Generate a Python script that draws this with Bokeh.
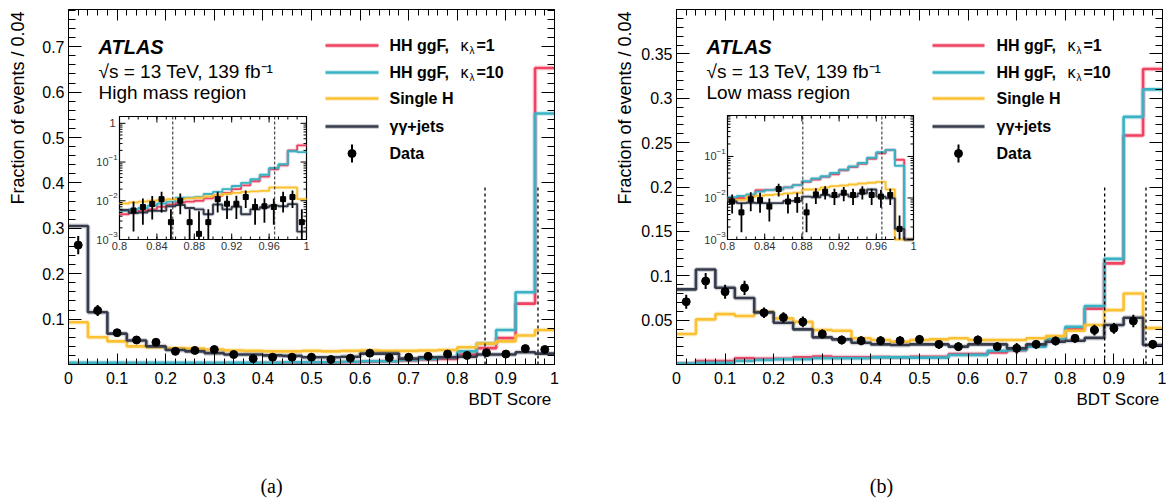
import math
import numpy as np
from bokeh.plotting import figure
from bokeh.models import Range1d, LinearAxis, LogScale, FixedTicker, Label
from bokeh.layouts import row
from bokeh.embed import file_html
from bokeh.resources import INLINE

# ---------------------------------------------------------------- data
BIN_EDGES = [round(0.04 * k, 2) for k in range(26)]          # main histograms, 0.04 wide
INSET_EDGES = [round(0.80 + 0.01 * k, 2) for k in range(21)]  # insets, 0.01 wide

# High mass region (a)
HM_K1 = [0.001, 0.001, 0.001, 0.001, 0.001, 0.001, 0.001, 0.001, 0.002, 0.002, 0.003, 0.003, 0.004,
         0.004, 0.005, 0.006, 0.007, 0.009, 0.011, 0.012, 0.022, 0.036, 0.058, 0.134, 0.653]
HM_K10 = [0.004, 0.004, 0.004, 0.004, 0.004, 0.004, 0.004, 0.004, 0.004, 0.004, 0.004, 0.005, 0.005,
          0.005, 0.006, 0.007, 0.007, 0.010, 0.012, 0.016, 0.029, 0.046, 0.076, 0.159, 0.553]
HM_SH = [0.093, 0.060, 0.051, 0.040, 0.038, 0.036, 0.035, 0.033, 0.031, 0.030, 0.029, 0.029, 0.030,
         0.029, 0.030, 0.031, 0.030, 0.030, 0.031, 0.032, 0.038, 0.046, 0.051, 0.064, 0.076]
HM_GGJ = [0.305, 0.115, 0.068, 0.053, 0.040, 0.032, 0.029, 0.025, 0.022, 0.022, 0.020, 0.019, 0.016,
          0.016, 0.017, 0.024, 0.024, 0.013, 0.016, 0.016, 0.017, 0.022, 0.022, 0.027, 0.024]
HM_DATA = [0.263, 0.119, 0.070, 0.054, 0.049, 0.029, 0.031, 0.033, 0.022, 0.013, 0.016, 0.016, 0.016,
           0.011, 0.014, 0.025, 0.015, 0.016, 0.018, 0.023, 0.020, 0.026, 0.023, 0.035, 0.033]
HM_ERR = [0.020, 0.012, 0.008, 0.007, 0.007, 0.005, 0.006, 0.006, 0.005, 0.004, 0.005, 0.005, 0.005,
          0.004, 0.005, 0.006, 0.005, 0.005, 0.005, 0.006, 0.005, 0.006, 0.006, 0.007, 0.007]
HM_CUTS = [0.857, 0.966]

HMI_K1 = [0.0045, 0.0050, 0.0055, 0.0060, 0.0070, 0.0080, 0.0090, 0.0095, 0.0100, 0.0115,
          0.0135, 0.0160, 0.0200, 0.0250, 0.0320, 0.0420, 0.0650, 0.0820, 0.2000, 0.2700]
HMI_K10 = [0.0055, 0.0060, 0.0065, 0.0075, 0.0085, 0.0095, 0.0120, 0.0120, 0.0125, 0.0150,
           0.0170, 0.0200, 0.0240, 0.0290, 0.0360, 0.0470, 0.0700, 0.0880, 0.1900, 0.1800]
HMI_SH = [0.0085, 0.0090, 0.0095, 0.0100, 0.0105, 0.0110, 0.0110, 0.0115, 0.0120, 0.0130,
          0.0140, 0.0150, 0.0160, 0.0170, 0.0175, 0.0180, 0.0220, 0.0220, 0.0220, 0.0110]
HMI_GGJ = [0.0058, 0.0048, 0.0050, 0.0055, 0.0055, 0.0072, 0.0078, 0.0065, 0.0060, 0.0045,
           0.0080, 0.0060, 0.0070, 0.0045, 0.0060, 0.0068, 0.0075, 0.0072, 0.0082, 0.0016]
HMI_DATA = [0.0, 0.0056, 0.0069, 0.0083, 0.0110, 0.0028, 0.0100, 0.0028, 0.0014, 0.0028,
            0.0110, 0.0084, 0.0084, 0.0125, 0.0069, 0.0072, 0.0069, 0.0110, 0.0125, 0.0028]
HMI_ERR = [0.0, 0.0040, 0.0045, 0.0050, 0.0060, 0.0032, 0.0055, 0.0032, 0.0040, 0.0032,
           0.0060, 0.0050, 0.0050, 0.0060, 0.0045, 0.0045, 0.0045, 0.0060, 0.0060, 0.0032]

# Low mass region (b)
LM_K1 = [0.001, 0.004, 0.004, 0.007, 0.0065, 0.0065, 0.0082, 0.009, 0.0082, 0.0082, 0.0085, 0.0082,
         0.0088, 0.0088, 0.0117, 0.0117, 0.0136, 0.016, 0.0212, 0.0283, 0.040, 0.063, 0.114, 0.258, 0.333]
LM_K10 = [0.001, 0.002, 0.002, 0.004, 0.005, 0.006, 0.006, 0.007, 0.007, 0.007, 0.008, 0.008,
          0.0077, 0.0077, 0.0107, 0.0107, 0.0155, 0.0165, 0.020, 0.029, 0.0425, 0.066, 0.119, 0.279, 0.310]
LM_SH = [0.0343, 0.0508, 0.0568, 0.0546, 0.0594, 0.052, 0.048, 0.0388, 0.038, 0.0295, 0.0276, 0.0257,
         0.0276, 0.0283, 0.0295, 0.0276, 0.0276, 0.0276, 0.0295, 0.032, 0.038, 0.0445, 0.0613, 0.080, 0.041]
LM_GGJ = [0.0846, 0.107, 0.0864, 0.075, 0.0587, 0.047, 0.0396, 0.0306, 0.0283, 0.0245, 0.0227, 0.022,
          0.0227, 0.0227, 0.0201, 0.0227, 0.0227, 0.0182, 0.0227, 0.0257, 0.0268, 0.030, 0.0445, 0.0527, 0.022]
LM_DATA = [0.0707, 0.094, 0.082, 0.0864, 0.0583, 0.053, 0.048, 0.0343, 0.0276, 0.0268, 0.0268, 0.0268,
           0.0283, 0.0227, 0.0201, 0.0276, 0.0201, 0.0182, 0.0227, 0.0265, 0.0295, 0.0388, 0.0407, 0.049, 0.0227]
LM_ERR = [0.008, 0.009, 0.008, 0.008, 0.006, 0.006, 0.006, 0.005, 0.005, 0.005, 0.005, 0.005, 0.005,
          0.005, 0.005, 0.005, 0.005, 0.006, 0.005, 0.005, 0.005, 0.006, 0.006, 0.007, 0.005]
LM_CUTS = [0.881, 0.966]

LMI_K1 = [0.0098, 0.0100, 0.0112, 0.0155, 0.0155, 0.0161, 0.0180, 0.0204, 0.0245, 0.0278,
          0.0322, 0.0373, 0.0464, 0.0557, 0.0669, 0.0879, 0.1200, 0.1440, 0.0834, 0.0]
LMI_K10 = [0.0105, 0.0112, 0.0122, 0.0142, 0.0155, 0.0161, 0.0180, 0.0204, 0.0254, 0.0294,
           0.0334, 0.0401, 0.0482, 0.0578, 0.0694, 0.0929, 0.1270, 0.1440, 0.0600, 0.0]
LMI_SH = [0.0090, 0.0090, 0.0107, 0.0113, 0.0118, 0.0122, 0.0129, 0.0134, 0.0160, 0.0160,
          0.0180, 0.0193, 0.0200, 0.0211, 0.0224, 0.0232, 0.0245, 0.0160, 0.0, 0.0]
LMI_GGJ = [0.0082, 0.0075, 0.0077, 0.0075, 0.0075, 0.0075, 0.0085, 0.0085, 0.0108, 0.0104,
           0.0118, 0.0108, 0.0122, 0.0108, 0.0129, 0.0160, 0.0108, 0.0098, 0.0018, 0.0]
LMI_DATA = [0.0082, 0.0045, 0.0093, 0.0089, 0.0062, 0.0164, 0.0082, 0.0089, 0.0045, 0.0122,
            0.0142, 0.0118, 0.0134, 0.0118, 0.0142, 0.0118, 0.0108, 0.0118, 0.0018, 0.0]
LMI_ERR = [0.0040, 0.0030, 0.0045, 0.0045, 0.0035, 0.0055, 0.0040, 0.0045, 0.0030, 0.0050,
           0.0050, 0.0050, 0.0050, 0.0050, 0.0050, 0.0050, 0.0050, 0.0050, 0.0020, 0.0]

X_TICKS = [0, 0.1, 0.2, 0.3, 0.4, 0.5, 0.6, 0.7, 0.8, 0.9, 1.0]
X_TICK_LABELS = ["0", "0.1", "0.2", "0.3", "0.4", "0.5", "0.6", "0.7", "0.8", "0.9", "1"]
HM_Y_TICKS = [0.1, 0.2, 0.3, 0.4, 0.5, 0.6, 0.7]
HM_Y_LABELS = ["0.1", "0.2", "0.3", "0.4", "0.5", "0.6", "0.7"]
LM_Y_TICKS = [0.05, 0.1, 0.15, 0.2, 0.25, 0.3, 0.35]
LM_Y_LABELS = ["0.05", "0.1", "0.15", "0.2", "0.25", "0.3", "0.35"]
INSET_X_TICKS = [0.8, 0.84, 0.88, 0.92, 0.96, 1.0]
INSET_X_LABELS = ["0.8", "0.84", "0.88", "0.92", "0.96", "1"]
INSET_Y_DECADES = [-3, -2, -1, 0]

# legend entries: (text, kappa, subscript, tail)
LEGEND_LABELS = [("HH ggF,", "\u03ba", "\u03bb", "=1"), ("HH ggF,", "\u03ba", "\u03bb", "=10"),
                 ("Single H", None, None, None), ("\u03b3\u03b3+jets", None, None, None),
                 ("Data", None, None, None)]
X_TITLE = "BDT Score"
Y_TITLE = "Fraction of events / 0.04"

# ---------------------------------------------------------------- style
RED = "#ee4462"
CYAN = "#3ab2c3"
YELLOW = "#fbc132"
DARK = "#363b4c"
FONT = "Liberation Sans"
SERIF = "Liberation Serif"
FIG_W, FIG_H = 583, 504


def extend(a, b, pa, pb, qa, qb):
    s = (b - a) / (pb - pa)
    return a + (qa - pa) * s, a + (qb - pa) * s


def lbl(p, x, y, text, size, xr="px", yr="py", align="left", baseline="middle",
        style="normal", font=FONT, xo=0, yo=0, color="black"):
    p.add_layout(Label(x=x, y=y, x_range_name=xr, y_range_name=yr, text=text,
                       text_font=font, text_font_size=f"{size}px", text_font_style=style,
                       text_align=align, text_baseline=baseline,
                       x_offset=xo, y_offset=yo, text_color=color))


def text_axis(p, loc, rng, pos, text, size, font, standoff, orientation="horizontal"):
    """An axis that carries one label only (titles / caption placed outside the frame)."""
    ax = LinearAxis(ticker=FixedTicker(ticks=[pos], minor_ticks=[]),
                    major_label_overrides={pos: text})
    if loc in ("below", "above"):
        ax.x_range_name = rng
    else:
        ax.y_range_name = rng
    ax.axis_line_color = None
    ax.major_tick_line_color = None
    ax.minor_tick_line_color = None
    ax.major_tick_in = ax.major_tick_out = 0
    ax.minor_tick_in = ax.minor_tick_out = 0
    ax.major_label_standoff = standoff
    ax.major_label_text_font = font
    ax.major_label_text_font_size = f"{size}px"
    ax.major_label_text_color = "black"
    ax.major_label_orientation = orientation
    p.add_layout(ax, loc)


def style_ticks(ax, tin, minin):
    ax.major_tick_in, ax.major_tick_out = tin, 0
    ax.minor_tick_in, ax.minor_tick_out = minin, 0
    ax.axis_line_color = "black"
    ax.major_tick_line_color = "black"
    ax.minor_tick_line_color = "black"


def make_panel(cfg):
    ox = cfg["ox"]
    fl, fr, ft, fb = cfg["frame"]
    il, ir, it, ib = cfg["inset"]
    p = figure(width=FIG_W, height=FIG_H, output_backend="svg", toolbar_location=None,
               x_range=Range1d(0, 1), y_range=Range1d(0, cfg["ymax"]),
               x_axis_type=None, y_axis_type=None,
               min_border_left=fl - ox, min_border_right=ox + FIG_W - fr,
               min_border_top=ft, min_border_bottom=FIG_H - fb)
    p.grid.visible = False
    p.outline_line_color = "black"
    p.outline_line_width = 1
    p.background_fill_color = "white"
    p.border_fill_color = "white"

    ix0, ix1 = extend(0.8, 1.0, il, ir, fl, fr)
    ly0, ly1 = extend(-3.0, math.log10(cfg["inset_top"]), ib, it, fb, ft)
    p.extra_x_ranges = {"px": Range1d(fl, fr), "ix": Range1d(ix0, ix1)}
    p.extra_y_ranges = {"py": Range1d(fb, ft), "iy": Range1d(10 ** ly0, 10 ** ly1)}
    p.extra_y_scales = {"iy": LogScale()}

    # ---- axes (ROOT style: inside ticks on all four sides)
    xminor = [round(0.02 * k, 2) for k in range(51)]
    ax = LinearAxis(ticker=FixedTicker(ticks=X_TICKS, minor_ticks=xminor))
    style_ticks(ax, 11, 6)
    ax.major_label_overrides = dict(zip(X_TICKS, X_TICK_LABELS))
    ax.major_label_text_font = FONT
    ax.major_label_text_font_size = "16px"
    ax.major_label_text_color = "black"
    ax.major_label_standoff = 7
    p.add_layout(ax, "below")
    axt = LinearAxis(ticker=FixedTicker(ticks=X_TICKS, minor_ticks=xminor))
    style_ticks(axt, 11, 6)
    axt.major_label_text_color = None
    axt.major_label_text_font_size = "0px"
    axt.major_label_standoff = 0
    p.add_layout(axt, "above")

    ystep = cfg["yminor_step"]
    nmin = int(round(cfg["ymax"] / ystep)) + 1
    yminor = [round(ystep * k, 3) for k in range(nmin)]
    ay = LinearAxis(ticker=FixedTicker(ticks=cfg["yticks"], minor_ticks=yminor))
    style_ticks(ay, 13, 7)
    ay.major_label_overrides = dict(zip(cfg["yticks"], cfg["ylabels"]))
    ay.major_label_text_font = FONT
    ay.major_label_text_font_size = "16px"
    ay.major_label_text_color = "black"
    ay.major_label_standoff = 4
    p.add_layout(ay, "left")
    ayr = LinearAxis(ticker=FixedTicker(ticks=cfg["yticks"], minor_ticks=yminor))
    style_ticks(ayr, 13, 7)
    ayr.major_label_text_color = None
    ayr.major_label_text_font_size = "0px"
    ayr.major_label_standoff = 0
    p.add_layout(ayr, "right")

    # titles and caption outside the frame
    text_axis(p, "below", "px", fr - 44.5, X_TITLE, 17, FONT, 3)
    text_axis(p, "below", "px", cfg["cap_x"], cfg["caption"], 20, SERIF, 63)
    text_axis(p, "left", "py", 107.5, Y_TITLE, 18, FONT, cfg["ylab_standoff"], "vertical")

    # ---- main histograms
    series = [(cfg["k1"], RED), (cfg["k10"], CYAN), (cfg["sh"], YELLOW), (cfg["ggj"], DARK)]
    for vals, col in series:
        yy = list(vals) + [vals[-1]]
        p.step(BIN_EDGES, yy, mode="after", line_color=col, line_width=5, line_alpha=0.22)
        p.step(BIN_EDGES, yy, mode="after", line_color=col, line_width=2.6)
    centers = [round((BIN_EDGES[i] + BIN_EDGES[i + 1]) / 2, 3) for i in range(25)]
    d = np.array(cfg["data"])
    e = np.array(cfg["err"])
    p.segment(centers, d - e, centers, d + e, line_color="black", line_width=2)
    p.scatter(centers, d, size=8, marker="circle", color="black")
    cuts = cfg["cuts"]
    p.segment(cuts, [0, 0], cuts, [cfg["dash_top"]] * 2, line_color="black",
              line_width=1.3, line_dash="3 3")

    # ---- inset
    top = cfg["inset_top"]
    p.quad(left=[0.8], right=[1.0], bottom=[1e-3], top=[top], fill_color="white",
           line_color="black", line_width=1.2, x_range_name="ix", y_range_name="iy")
    iseries = [(cfg["ik1"], RED), (cfg["ik10"], CYAN), (cfg["ish"], YELLOW), (cfg["iggj"], DARK)]
    for vals, col in iseries:
        v = [max(x, 1e-3) for x in vals]
        yy = v + [v[-1]]
        p.step(INSET_EDGES, yy, mode="after", line_color=col, line_width=4, line_alpha=0.2,
               x_range_name="ix", y_range_name="iy")
        p.step(INSET_EDGES, yy, mode="after", line_color=col, line_width=1.9,
               x_range_name="ix", y_range_name="iy")
    icent = [round(0.805 + 0.01 * k, 3) for k in range(20)]
    pts = [(c, v, er) for c, v, er in zip(icent, cfg["idata"], cfg["ierr"]) if v > 0]
    px_ = [t[0] for t in pts]
    pv = [t[1] for t in pts]
    lo = [max(t[1] - t[2], 1e-3) for t in pts]
    hi = [t[1] + t[2] for t in pts]
    p.segment(px_, lo, px_, hi, line_color="black", line_width=1.8,
              x_range_name="ix", y_range_name="iy")
    p.scatter(px_, pv, size=5, marker="square", color="black",
              x_range_name="ix", y_range_name="iy")
    p.segment(cuts, [1e-3] * 2, cuts, [top] * 2, line_color="#222222", line_width=1,
              line_dash="3 2", x_range_name="ix", y_range_name="iy")
    # inset ticks
    ixmin = [round(0.8 + 0.01 * k, 2) for k in range(21)]
    for xs, ln in ((INSET_X_TICKS, 6), (ixmin, 3)):
        n = len(xs)
        p.segment(xs, [ib] * n, xs, [ib - ln] * n, line_color="black", line_width=1,
                  x_range_name="ix", y_range_name="py")
        p.segment(xs, [it] * n, xs, [it + ln] * n, line_color="black", line_width=1,
                  x_range_name="ix", y_range_name="py")
    ymaj = [10.0 ** dd for dd in INSET_Y_DECADES if 10.0 ** dd <= top]
    ymin = [k * 10.0 ** dd for dd in INSET_Y_DECADES for k in range(2, 10) if k * 10.0 ** dd <= top]
    for ys, ln in ((ymaj, 6), (ymin, 3)):
        n = len(ys)
        p.segment([il] * n, ys, [il + ln] * n, ys, line_color="black", line_width=1,
                  x_range_name="px", y_range_name="iy")
        p.segment([ir] * n, ys, [ir - ln] * n, ys, line_color="black", line_width=1,
                  x_range_name="px", y_range_name="iy")
    for xt, tl in zip(INSET_X_TICKS, INSET_X_LABELS):
        lbl(p, xt, ib + 2, tl, 11, xr="ix", yr="py", align="center", baseline="top",
            color="#333333")
    for dd in INSET_Y_DECADES:
        if 10.0 ** dd > top:
            continue
        if dd == 0:
            lbl(p, il - 4, 1.0, "1", 11, xr="px", yr="iy", align="right", color="#333333")
        else:
            lbl(p, il - 11, 10.0 ** dd, "10", 11, xr="px", yr="iy", align="right", color="#333333")
            lbl(p, il - 11, 10.0 ** dd, "\u2212" + str(-dd), 8, xr="px", yr="iy",
                align="left", yo=5, color="#333333")

    # ---- legend
    lx0, lx1, tx = cfg["legend"]
    rows = [45, 72, 98, 126, 153]
    cols = [RED, CYAN, YELLOW, DARK]
    p.segment([lx0] * 4, rows[:4], [lx1] * 4, rows[:4], line_color=cols, line_width=5,
              line_alpha=0.22, x_range_name="px", y_range_name="py")
    p.segment([lx0] * 4, rows[:4], [lx1] * 4, rows[:4], line_color=cols, line_width=2.6,
              x_range_name="px", y_range_name="py")
    mx = (lx0 + lx1) / 2
    p.segment([mx], [rows[4] - 9], [mx], [rows[4] + 9], line_color="black", line_width=2,
              x_range_name="px", y_range_name="py")
    p.scatter([mx], [rows[4]], size=8, marker="circle", color="black",
              x_range_name="px", y_range_name="py")
    for r, (main, kap, sub, tail) in zip(rows, LEGEND_LABELS):
        lbl(p, tx, r, main, 16, style="bold")
        if kap:
            lbl(p, tx + 71, r, kap, 16)
            lbl(p, tx + 80, r, sub, 10, yo=-5)
            lbl(p, tx + 87, r, tail, 16, style="bold")

    # ---- texts
    ax_x = cfg["atlas_x"]
    lbl(p, ax_x, 46, "ATLAS", 20, style="bold italic")
    lbl(p, ax_x, 71, "\u221as = 13 TeV, 139 fb\u207b\u00b9", 19)
    lbl(p, ax_x, 92, cfg["region"], 19)
    return p


HIGH = dict(ox=0, frame=(68, 554, 9, 364), ymax=0.782, yticks=HM_Y_TICKS, ylabels=HM_Y_LABELS,
            yminor_step=0.02, inset=(119, 306, 116, 239), inset_top=1.5,
            k1=HM_K1, k10=HM_K10, sh=HM_SH, ggj=HM_GGJ, data=HM_DATA, err=HM_ERR,
            cuts=HM_CUTS, dash_top=0.39,
            ik1=HMI_K1, ik10=HMI_K10, ish=HMI_SH, iggj=HMI_GGJ, idata=HMI_DATA, ierr=HMI_ERR,
            legend=(325, 378, 389), atlas_x=98, region="High mass region",
            ylab_standoff=12, cap_x=271, caption="(a)")
LOW = dict(ox=583, frame=(676, 1162, 9, 364), ymax=0.4, yticks=LM_Y_TICKS, ylabels=LM_Y_LABELS,
           yminor_step=0.01, inset=(727, 913, 115, 239), inset_top=0.97,
           k1=LM_K1, k10=LM_K10, sh=LM_SH, ggj=LM_GGJ, data=LM_DATA, err=LM_ERR,
           cuts=LM_CUTS, dash_top=0.2,
           ik1=LMI_K1, ik10=LMI_K10, ish=LMI_SH, iggj=LMI_GGJ, idata=LMI_DATA, ierr=LMI_ERR,
           legend=(932, 984, 996), atlas_x=706, region="Low mass region",
           ylab_standoff=4, cap_x=881, caption="(b)")

layout = row(make_panel(HIGH), make_panel(LOW), spacing=0)
open("out.html", "w").write(file_html(layout, INLINE))
